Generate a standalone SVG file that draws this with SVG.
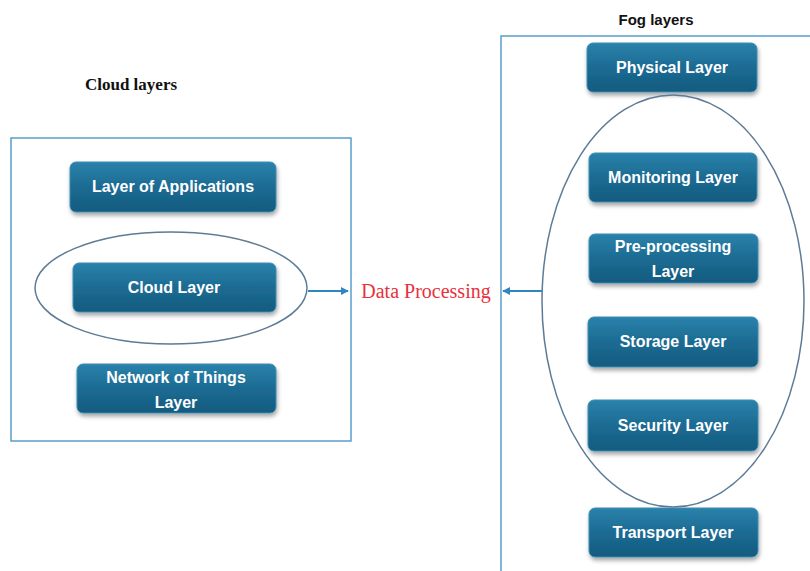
<svg xmlns="http://www.w3.org/2000/svg" width="810" height="571" viewBox="0 0 810 571">
<defs>
<linearGradient id="g" x1="0" y1="0" x2="0" y2="1">
<stop offset="0" stop-color="#2a82aa"/>
<stop offset="0.5" stop-color="#1c6b93"/>
<stop offset="1" stop-color="#145b7f"/>
</linearGradient>
<filter id="sh" x="-10%" y="-20%" width="120%" height="150%">
<feDropShadow dx="1" dy="3" stdDeviation="2" flood-color="#000" flood-opacity="0.35"/>
</filter>
<marker id="ah" viewBox="0 0 10 10" refX="9" refY="5" markerWidth="4" markerHeight="4" orient="auto">
<path d="M0,0 L10,5 L0,10 z" fill="#2f86c0"/>
</marker>
<style>
.box{fill:url(#g);stroke:#3d8db5;stroke-width:1;filter:url(#sh)}
.lbl{fill:#fff;font-family:"Liberation Sans",Arial,sans-serif;font-weight:bold;font-size:16px;text-anchor:middle}
.frame{fill:none;stroke:#5a9fcc;stroke-width:1.5}
.oval{fill:none;stroke:#5d7b95;stroke-width:1.5}
.conn{stroke:#2f86c0;stroke-width:2;fill:none;marker-end:url(#ah)}
</style>
</defs>
<rect width="810" height="571" fill="#fff"/>

<g id="cloud-group">
<text x="131" y="90" font-family="Liberation Serif,serif" font-weight="bold" font-size="17" text-anchor="middle" fill="#111">Cloud layers</text>
<rect class="frame" x="11" y="138" width="340" height="303"/>
</g>

<g id="fog-group">
<text x="656" y="25" font-family="Liberation Sans,Arial,sans-serif" font-weight="bold" font-size="15" text-anchor="middle" fill="#111">Fog layers</text>
<rect class="frame" x="501" y="36" width="320" height="560"/>
</g>

<g id="app-layer">
<rect class="box" x="70" y="162" width="206" height="50" rx="6"/>
<text class="lbl" x="173" y="192">Layer of Applications</text>
</g>
<g id="cloud-layer">
<ellipse class="oval" cx="171" cy="288" rx="136" ry="56"/>
<rect class="box" x="73" y="263" width="203" height="49" rx="6"/>
<text class="lbl" x="174" y="293">Cloud Layer</text>
</g>
<g id="not-layer">
<rect class="box" x="77" y="364" width="199" height="49" rx="6"/>
<text class="lbl" x="176" y="383">Network of Things</text>
<text class="lbl" x="176" y="408">Layer</text>
</g>

<g id="data-processing">
<text x="426" y="298" font-family="Liberation Serif,serif" font-size="20" text-anchor="middle" fill="#e8313c">Data Processing</text>
</g>

<g id="physical-layer">
<rect class="box" x="587" y="43" width="170" height="49" rx="6"/>
<text class="lbl" x="672" y="73">Physical Layer</text>
</g>
<g id="fog-oval">
<ellipse class="oval" cx="673" cy="301" rx="131" ry="206"/>
</g>
<g id="monitoring-layer">
<rect class="box" x="589" y="153" width="168" height="49" rx="6"/>
<text class="lbl" x="673" y="183">Monitoring Layer</text>
</g>
<g id="preprocessing-layer">
<rect class="box" x="589" y="234" width="169" height="49" rx="6"/>
<text class="lbl" x="673" y="252">Pre-processing</text>
<text class="lbl" x="673" y="277">Layer</text>
</g>
<g id="storage-layer">
<rect class="box" x="588" y="317" width="170" height="50" rx="6"/>
<text class="lbl" x="673" y="347">Storage Layer</text>
</g>
<g id="security-layer">
<rect class="box" x="588" y="400" width="170" height="51" rx="6"/>
<text class="lbl" x="673" y="431">Security Layer</text>
</g>
<g id="transport-layer">
<rect class="box" x="589" y="508" width="169" height="49" rx="6"/>
<text class="lbl" x="673" y="538">Transport Layer</text>
</g>

<g id="connectors">
<line class="conn" x1="308" y1="291" x2="348" y2="291"/>
<line class="conn" x1="542" y1="291" x2="503" y2="291"/>
</g>
</svg>
